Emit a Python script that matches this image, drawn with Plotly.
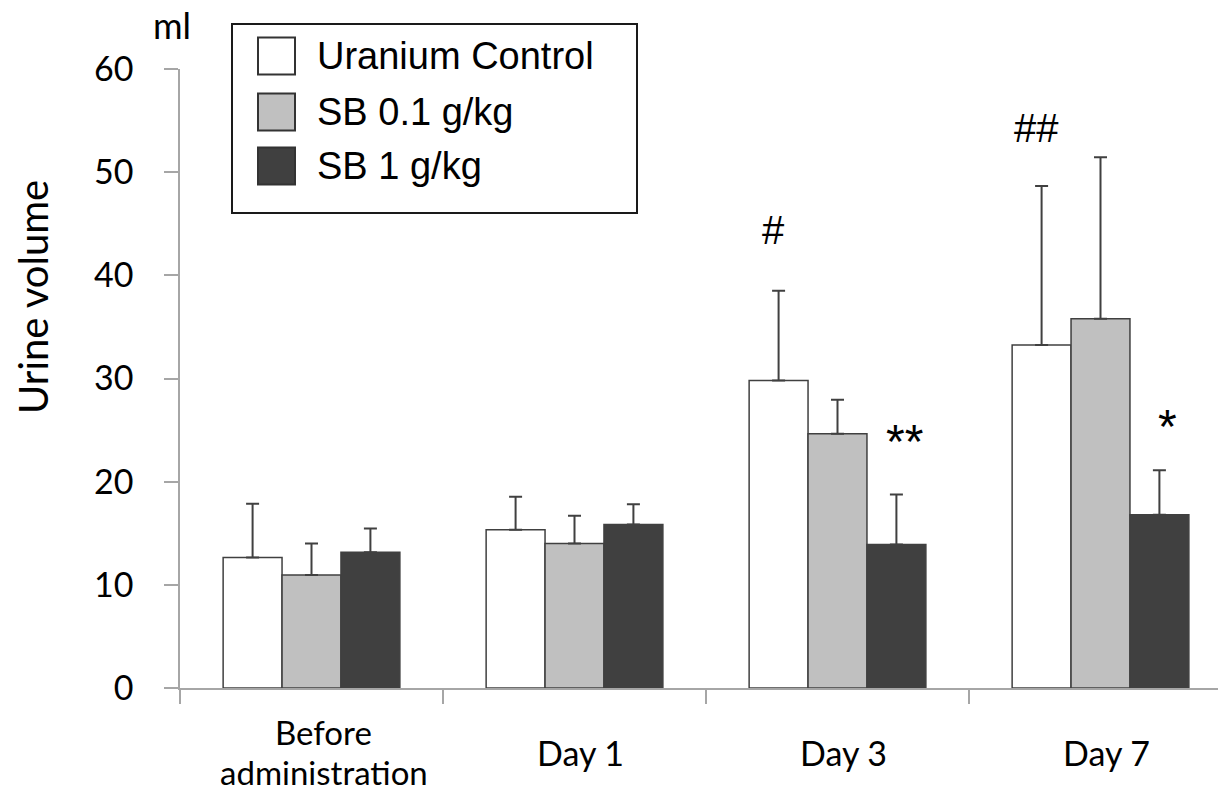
import plotly.graph_objects as go

categories = ["Before<br>administration", "Day 1", "Day 3", "Day 7"]
series_names = ["Uranium Control", "SB 0.1 g/kg", "SB 1 g/kg"]
control = [12.65, 15.35, 29.8, 33.25]
sb01 = [10.95, 14.0, 24.65, 35.8]
sb1 = [13.15, 15.85, 13.9, 16.8]
control_err = [5.2, 3.2, 8.7, 15.4]
sb01_err = [3.05, 2.7, 3.3, 15.65]
sb1_err = [2.3, 1.95, 4.85, 4.3]
colors = ["#ffffff", "#c0c0c0", "#404040"]
marks = [("#", 2, 0, 44.4), ("##", 3, 0, 54.3), ("**", 2, 2, 24.9), ("*", 3, 2, 26.3)]
y_ticks = [0, 10, 20, 30, 40, 50, 60]

W, H = 1218, 794
L, R, T, B = 180, 0, 69, 106
PW, PH = W - L - R, H - T - B

def px(x):
    return (x - L) / PW

def py(y):
    return (H - B - y) / PH

cat_px = 263.0
xmax = PW / cat_px - 0.5
bar_w = 0.224

fig = go.Figure()
vals = [control, sb01, sb1]
errs = [control_err, sb01_err, sb1_err]
xs = list(range(len(categories)))
for i, (name, v, e, c) in enumerate(zip(series_names, vals, errs, colors)):
    fig.add_trace(go.Bar(
        x=xs, y=v, name=name, width=bar_w, offset=(i - 1.5) * bar_w,
        marker=dict(color=c, line=dict(color="#404040", width=1.5)),
        error_y=dict(type="data", array=e, arrayminus=[0] * len(e), symmetric=False,
                     color="#404040", thickness=2, width=6.5),
        showlegend=False,
    ))

fig.update_layout(
    width=W, height=H, margin=dict(l=L, r=R, t=T, b=B),
    paper_bgcolor="white", plot_bgcolor="white",
    barmode="overlay",
    xaxis=dict(range=[-0.5, xmax], tickvals=[-0.5, 0.5, 1.5, 2.5, 3.5], ticktext=["", "", "", "", ""],
               ticks="outside", ticklen=14, tickcolor="#a6a6a6", tickwidth=1.5,
               showline=True, linecolor="#a6a6a6", linewidth=1.5, showgrid=False, zeroline=False),
    yaxis=dict(range=[0, 60], tickvals=y_ticks, ticks="outside", ticklen=14, tickcolor="#a6a6a6",
               tickwidth=1.5, showline=True, linecolor="#a6a6a6", linewidth=1.5, showgrid=False,
               zeroline=False, ticklabelstandoff=24,
               tickfont=dict(family="Lato", size=34, color="black")),
)

ann = []
# category labels (one annotation per line for tight line spacing)
line_gap = 40.5
for i, c in enumerate(categories):
    lines = c.split("<br>")
    n = len(lines)
    fs = 34 if n == 1 else 33
    for k, t in enumerate(lines):
        yc = 752 + (k - (n - 1) / 2) * line_gap
        ann.append(dict(x=i, y=py(yc), xref="x", yref="paper", text=t, showarrow=False,
                        xshift=12 if i == 0 else 6, xanchor="center", yanchor="middle",
                        borderpad=0, font=dict(family="Lato", size=fs, color="black")))
# significance marks
for text, ci, si, yv in marks:
    is_star = "*" in text
    ann.append(dict(x=ci + (si - 1) * bar_w, y=yv, xref="x", yref="y", text=text, showarrow=False,
                    xshift=-5 if si == 0 else 8, yshift=-10 if is_star else 0,
                    xanchor="center", yanchor="middle",
                    font=dict(family="Liberation Sans", size=48 if is_star else 40, color="black")))
# axis title and unit
ann.append(dict(x=px(33), y=py(297), xref="paper", yref="paper", text="Urine volume", textangle=-90,
                showarrow=False, xanchor="center", yanchor="middle",
                font=dict(family="Lato", size=40, color="black")))
ann.append(dict(x=px(172), y=py(25), xref="paper", yref="paper", text="ml", showarrow=False,
                xanchor="center", yanchor="middle",
                font=dict(family="Lato", size=36, color="black")))

shapes = []
# legend box
shapes.append(dict(type="rect", xref="paper", yref="paper", x0=px(232), x1=px(637), y0=py(24), y1=py(213),
                   line=dict(color="#1a1a1a", width=2), fillcolor="white"))
row_y = [56, 112, 166]
for name, c, ry in zip(series_names, colors, row_y):
    shapes.append(dict(type="rect", xref="paper", yref="paper", x0=px(258), x1=px(295),
                       y0=py(ry - 18.5), y1=py(ry + 18.5), line=dict(color="#333333", width=2), fillcolor=c))
    ann.append(dict(x=px(315), y=py(ry), xref="paper", yref="paper", text=name, showarrow=False,
                    xanchor="left", yanchor="middle",
                    font=dict(family="Liberation Sans", size=38, color="black")))

fig.update_layout(annotations=ann, shapes=shapes)
fig.write_html("out.html")
